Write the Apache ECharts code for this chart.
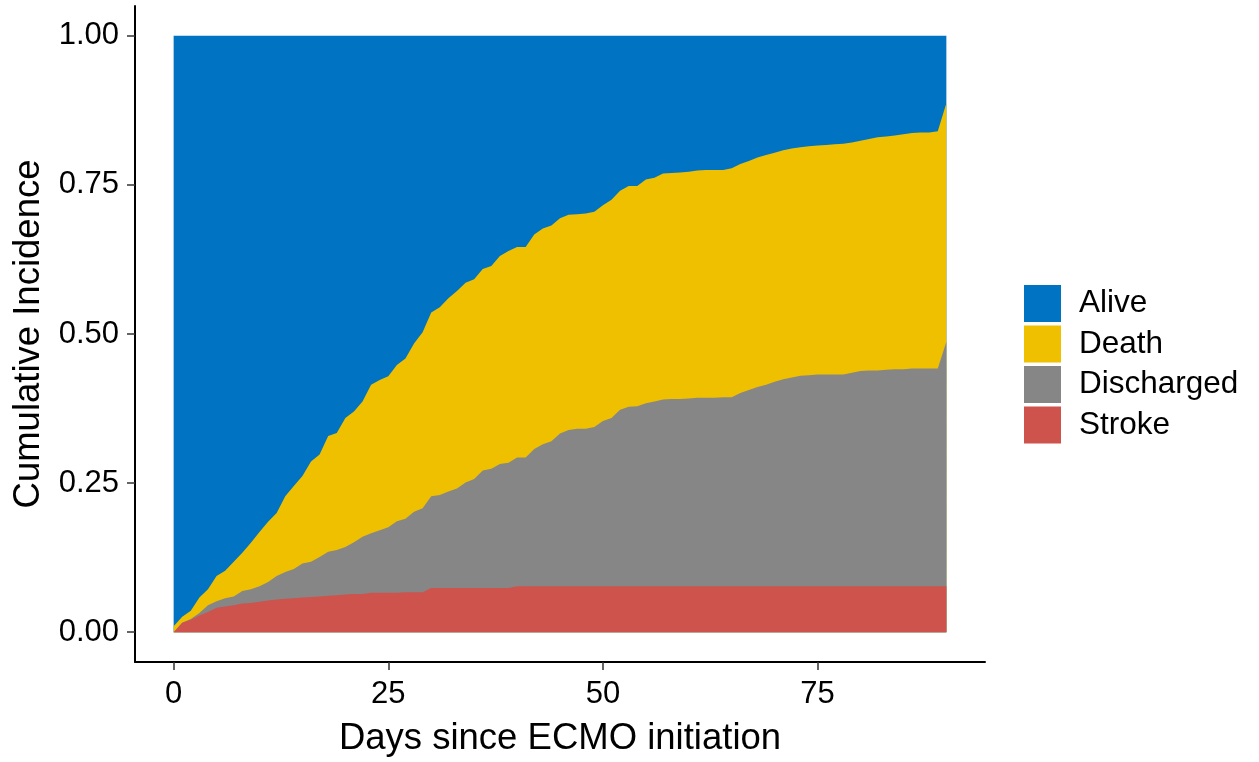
<!DOCTYPE html>
<html>
<head>
<meta charset="utf-8">
<script src="https://cdn.jsdelivr.net/npm/echarts@6/dist/echarts.min.js"></script>
<style>
html,body{margin:0;padding:0;background:#fff;}
#chart{width:1259px;height:762px;}
</style>
</head>
<body>
<div id="chart"></div>
<script>
// Days since ECMO initiation
const days = [0,1,2,3,4,5,6,7,8,9,10,11,12,13,14,15,16,17,18,19,20,21,22,23,24,25,26,27,28,29,30,
  31,32,33,34,35,36,37,38,39,40,41,42,43,44,45,46,47,48,49,50,51,52,53,54,55,56,57,58,59,60,
  61,62,63,64,65,66,67,68,69,70,71,72,73,74,75,76,77,78,79,80,81,82,83,84,85,86,87,88,89,90];

// Layer values (share of patients in each state), bottom to top
const stroke = [0.000,0.016,0.021,0.028,0.034,0.041,0.043,0.045,0.048,0.049,0.051,0.053,0.055,0.056,0.057,0.058,0.059,0.060,0.061,0.062,0.063,
  0.064,0.064,0.066,0.066,0.066,0.066,0.067,0.067,0.067,0.074,0.074,0.074,0.074,0.074,0.074,0.074,0.074,0.074,0.074,0.077,
  0.077,0.077,0.077,0.077,0.077,0.077,0.077,0.077,0.077,0.077,0.077,0.077,0.077,0.077,0.077,0.077,0.077,0.077,0.077,0.077,
  0.077,0.077,0.077,0.077,0.077,0.077,0.077,0.077,0.077,0.077,0.077,0.077,0.077,0.077,0.077,0.077,0.077,0.077,0.077,0.077,
  0.077,0.077,0.077,0.077,0.077,0.077,0.077,0.077,0.077,0.077];

const discharged = [0.000,0.000,0.001,0.004,0.011,0.011,0.014,0.015,0.021,0.023,0.026,0.031,0.039,0.045,0.049,0.057,0.059,0.066,0.074,0.076,0.080,
  0.087,0.096,0.100,0.105,0.110,0.120,0.123,0.135,0.141,0.154,0.156,0.162,0.167,0.177,0.183,0.197,0.200,0.208,0.210,0.216,
  0.216,0.230,0.238,0.243,0.256,0.262,0.264,0.264,0.267,0.277,0.282,0.296,0.301,0.302,0.307,0.310,0.313,0.314,0.314,0.315,
  0.316,0.316,0.316,0.317,0.317,0.324,0.329,0.334,0.338,0.343,0.347,0.350,0.353,0.354,0.355,0.355,0.355,0.355,0.358,0.361,
  0.362,0.362,0.363,0.364,0.364,0.365,0.365,0.365,0.365,0.410];

const death = [0.010,0.010,0.014,0.026,0.027,0.042,0.046,0.058,0.064,0.078,0.091,0.101,0.106,0.127,0.139,0.147,0.168,0.172,0.194,0.196,0.216,
  0.219,0.227,0.249,0.252,0.253,0.262,0.269,0.282,0.295,0.308,0.315,0.324,0.331,0.335,0.335,0.338,0.340,0.349,0.355,0.353,
  0.353,0.360,0.362,0.362,0.361,0.361,0.360,0.361,0.361,0.362,0.366,0.367,0.370,0.369,0.375,0.375,0.379,0.379,0.380,0.380,
  0.381,0.382,0.382,0.381,0.384,0.384,0.384,0.385,0.385,0.384,0.384,0.384,0.383,0.384,0.384,0.385,0.386,0.387,0.386,0.386,
  0.388,0.391,0.391,0.392,0.394,0.395,0.396,0.396,0.398,0.400];

const alive = [0.990,0.974,0.964,0.942,0.928,0.906,0.897,0.882,0.867,0.850,0.832,0.815,0.800,0.772,0.755,0.738,0.714,0.702,0.671,0.666,0.641,
  0.630,0.613,0.585,0.577,0.571,0.552,0.541,0.516,0.497,0.464,0.455,0.440,0.428,0.414,0.408,0.391,0.386,0.369,0.361,0.354,
  0.354,0.333,0.323,0.318,0.306,0.300,0.299,0.298,0.295,0.284,0.275,0.260,0.252,0.252,0.241,0.238,0.231,0.230,0.229,0.228,
  0.226,0.225,0.225,0.225,0.222,0.215,0.210,0.204,0.200,0.196,0.192,0.189,0.187,0.185,0.184,0.183,0.182,0.181,0.179,0.176,
  0.173,0.170,0.169,0.167,0.165,0.163,0.162,0.162,0.160,0.113];

const xTicks = [0, 25, 50, 75];
const yTicks = [0, 0.25, 0.5, 0.75, 1];
const legendOrder = ['Alive', 'Death', 'Discharged', 'Stroke'];
const colors = { Alive: '#0073C2', Death: '#EFC000', Discharged: '#868686', Stroke: '#CD534C' };

const FONT = 'Liberation Sans, Arial, sans-serif';

// Stacking is done here (ECharts would stack the x dimension on a value/value grid)
const layersBottomUp = [['Stroke', stroke], ['Discharged', discharged], ['Death', death], ['Alive', alive]];
const running = days.map(() => 0);
const stackedTops = layersBottomUp.map(([name, vals]) => {
  const tops = vals.map((v, i) => (running[i] = +(running[i] + v).toFixed(4)));
  return [name, tops.slice()];
});

function areaSeries(name, tops, z) {
  return {
    name: name,
    type: 'line',
    data: days.map((d, i) => [d, tops[i]]),
    symbol: 'none',
    showSymbol: false,
    z: z,
    lineStyle: { width: 0, opacity: 0 },
    areaStyle: { color: colors[name], opacity: 1, origin: 0 },
    itemStyle: { color: colors[name] },
    emphasis: { disabled: true },
    animation: false
  };
}

// draw top layer first so lower layers are painted over it
const series = stackedTops.slice().reverse().map(([name, tops], k) => areaSeries(name, tops, 2 + k));

const chart = echarts.init(document.getElementById('chart'), null, { renderer: 'canvas' });
chart.setOption({
  backgroundColor: '#ffffff',
  animation: false,
  grid: { left: 135, right: 274, top: 6, bottom: 94, containLabel: false },
  legend: {
    orient: 'vertical',
    left: 1024,
    top: 285,
    padding: 0,
    itemWidth: 37,
    itemHeight: 37,
    itemGap: 3.5,
    icon: 'rect',
    data: legendOrder,
    selectedMode: false,
    textStyle: { fontFamily: FONT, fontSize: 31.5, color: '#000', padding: [0, 0, 0, 13] }
  },
  xAxis: {
    type: 'value',
    min: -4.5,
    max: 94.5,
    name: 'Days since ECMO initiation',
    nameLocation: 'middle',
    nameGap: 58,
    nameTextStyle: { fontFamily: FONT, fontSize: 36.5, color: '#000' },
    axisLine: { show: true, onZero: false, lineStyle: { color: '#000', width: 2 } },
    axisTick: { show: true, length: 8, customValues: xTicks, lineStyle: { color: '#333', width: 1.5 } },
    axisLabel: { customValues: xTicks, fontFamily: FONT, fontSize: 31, color: '#000', margin: 17 },
    splitLine: { show: false }
  },
  yAxis: {
    type: 'value',
    min: -0.05,
    max: 1.05,
    name: 'Cumulative Incidence',
    nameLocation: 'middle',
    nameGap: 85,
    nameTextStyle: { fontFamily: FONT, fontSize: 36.5, color: '#000' },
    axisLine: { show: true, onZero: false, lineStyle: { color: '#000', width: 2 } },
    axisTick: { show: true, length: 8, customValues: yTicks, lineStyle: { color: '#333', width: 1.5 } },
    axisLabel: { customValues: yTicks, fontFamily: FONT, fontSize: 31, color: '#000', margin: 16,
      formatter: v => v.toFixed(2) },
    splitLine: { show: false }
  },
  series: series
});
</script>
</body>
</html>
